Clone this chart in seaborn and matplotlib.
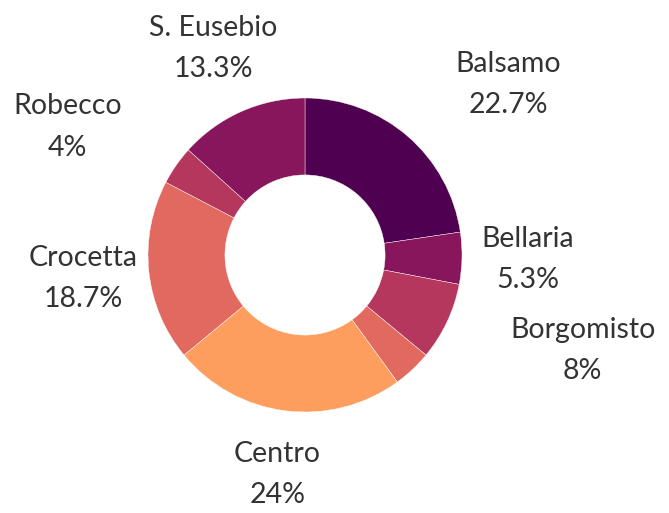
import matplotlib
matplotlib.use('Agg')
import matplotlib.pyplot as plt
import seaborn as sns
import numpy as np

# dati del grafico
quartieri = ['Balsamo', 'Bellaria', 'Borgomisto', '', 'Centro', 'Crocetta', 'Robecco', 'S. Eusebio']
conteggi = [17, 4, 6, 3, 18, 14, 3, 10]
percentuali = ['22.7%', '5.3%', '8%', '4%', '24%', '18.7%', '4%', '13.3%']
colori = ['#4f0050', '#88165c', '#b5375e', '#e2695f', '#fd9e5e', '#e2695f', '#b5375e', '#88165c']

sns.set_theme(style='white')
plt.rcParams['font.family'] = ['Lato', 'DejaVu Sans']

fig = plt.figure(figsize=(6.69, 5.13), dpi=100)
ax = fig.add_axes([0, 0, 1, 1])

wedges, _ = ax.pie(conteggi, colors=colori, startangle=90, counterclock=False,
                   radius=1, wedgeprops=dict(width=0.49, edgecolor='white', linewidth=0.3))

# posizione delle etichette: (fattore raggio, spostamento angolo)
pos_etichette = [(1.69, -9.3), (1.42, 0), (1.87, 6.3), None, (1.41, 0), (1.42, 0), (1.72, 6.5), (1.44, 0)]

for w, nome, pct, pos in zip(wedges, quartieri, percentuali, pos_etichette):
    if pos is None:
        continue
    ang = np.deg2rad((w.theta1 + w.theta2) / 2 + pos[1])
    x, y = pos[0] * np.cos(ang), pos[0] * np.sin(ang)
    ax.text(x, y, nome + '\n' + pct, ha='center', va='center', fontsize=20.5,
            color='#333333', linespacing=1.72)

ax.set_xlim(-305 / 157, (669 - 305) / 157)
ax.set_ylim(-(513 - 255) / 157, 255 / 157)
ax.set_aspect('auto')
ax.axis('off')

plt.savefig('out.png', dpi=100)
